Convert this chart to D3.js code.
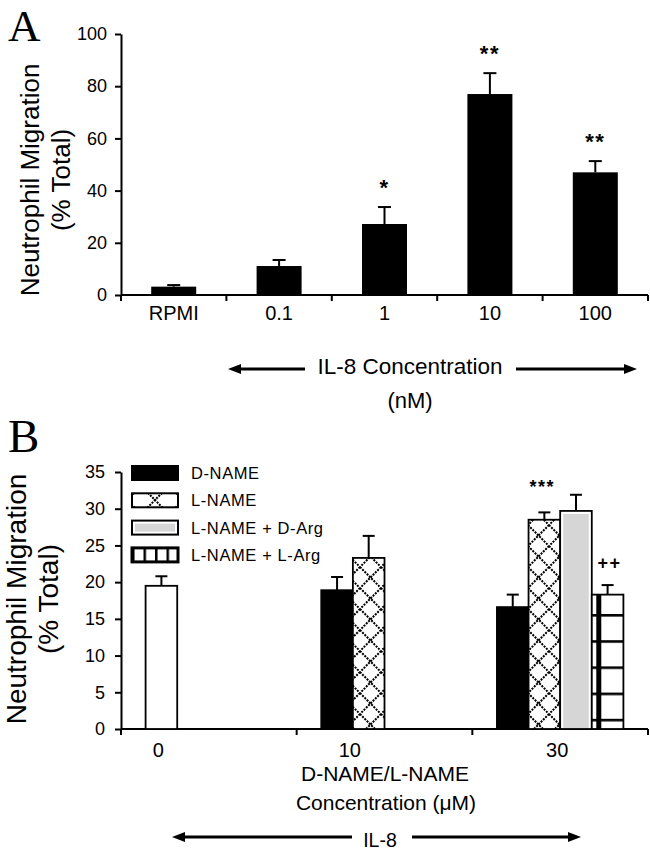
<!DOCTYPE html>
<html><head><meta charset="utf-8">
<script src="https://cdn.jsdelivr.net/npm/d3@7"></script>
<style>body{margin:0;background:#fff}svg{display:block}text{font-family:"Liberation Sans",Arial,sans-serif;fill:#000}</style>
</head><body>
<script>
// ---- Panel A data ----
const catsA = ["RPMI", "0.1", "1", "10", "100"];
const valsA = [3.2, 11.1, 27.2, 77, 47];
const errA  = [0.6, 2.3, 6.5, 8, 4.3];
const sigA  = ["", "", "*", "**", "**"];
const ticksA = [0, 20, 40, 60, 80, 100];

// ---- Panel B data ----
const concB = ["0", "10", "30"];
const seriesB = ["D-NAME", "L-NAME", "L-NAME + D-Arg", "L-NAME + L-Arg"];
const controlB = {conc: "0", value: 19.5, err: 1.3};
const dName  = [null, 18.9, 16.6];
const dNameErr = [null, 1.8, 1.7];
const lName  = [null, 23.3, 28.5];
const lNameErr = [null, 3.0, 1.0];
const lNameDArg = [null, null, 29.7];
const lNameDArgErr = [null, null, 2.2];
const lNameLArg = [null, null, 18.3];
const lNameLArgErr = [null, null, 1.3];
const sigB = {"L-NAME|30": "***", "L-NAME + L-Arg|30": "++"};
const ticksB = [0, 5, 10, 15, 20, 25, 30, 35];

const W = 650, H = 852;
const svg = d3.select("body").append("svg").attr("width", W).attr("height", H);
const defs = svg.append("defs");

// patterns
const pc = defs.append("pattern").attr("id","cross").attr("patternUnits","userSpaceOnUse")
  .attr("width",21).attr("height",21).attr("x",3);
pc.append("rect").attr("width",21).attr("height",21).attr("fill","#fff");
pc.append("path").attr("d","M0,0L21,21M21,0L0,21").attr("stroke","#000").attr("stroke-width",2).attr("stroke-dasharray","2,1.2");

const pcl = defs.append("pattern").attr("id","crossleg").attr("patternUnits","userSpaceOnUse")
  .attr("width",28).attr("height",28).attr("x",141).attr("y",486);
pcl.append("rect").attr("width",28).attr("height",28).attr("fill","#fff");
pcl.append("path").attr("d","M0,0L28,28M28,0L0,28").attr("stroke","#000").attr("stroke-width",2).attr("stroke-dasharray","2,1.2");

const pg = defs.append("pattern").attr("id","gridbar").attr("patternUnits","userSpaceOnUse")
  .attr("width",31).attr("height",26.2).attr("y",729 % 26.2 - 26.2 + 16);
pg.append("rect").attr("width",31).attr("height",26.2).attr("fill","#fff");
pg.append("rect").attr("x",0).attr("y",0).attr("width",31).attr("height",2.6).attr("fill","#000");

const pl = defs.append("pattern").attr("id","gridleg").attr("patternUnits","userSpaceOnUse")
  .attr("width",11.5).attr("height",40).attr("x",132);
pl.append("rect").attr("width",11.5).attr("height",40).attr("fill","#fff");
pl.append("rect").attr("x",0).attr("width",2.5).attr("height",40).attr("fill","#000");

// ================= Panel A =================
const xA = d3.scaleBand().domain(catsA).range([121, 648]).paddingInner(0.573).paddingOuter(0.2865);
const yA = d3.scaleLinear().domain([0, 100]).range([295, 34]);
const gA = svg.append("g");

gA.append("text").text("A").attr("x", 8).attr("y", 41)
  .style("font-family", "'Liberation Serif','Times New Roman',serif").style("font-size", "45px");

// y axis
const yAxA = gA.append("g").attr("transform", "translate(121,0)")
  .call(d3.axisLeft(yA).tickValues(ticksA).tickSize(6).tickPadding(8).tickSizeOuter(0));
yAxA.select(".domain").attr("stroke-width", 2);
yAxA.selectAll(".tick line").attr("stroke-width", 2);
yAxA.selectAll("text").style("font-size", "18px").style("font-family", "'Liberation Sans',Arial");

// x axis with ticks at band boundaries
const bndA = catsA.map(c => xA(c) - xA.step() * xA.paddingInner() / 2).concat([648]);
gA.append("line").attr("x1", 121).attr("x2", 648).attr("y1", 295).attr("y2", 295).attr("stroke", "#000").attr("stroke-width", 2);
gA.selectAll(".xtA").data(bndA).join("line").attr("x1", d => d).attr("x2", d => d)
  .attr("y1", 295).attr("y2", 301).attr("stroke", "#000").attr("stroke-width", 2);
gA.selectAll(".xlA").data(catsA).join("text").attr("x", d => xA(d) + xA.bandwidth() / 2).attr("y", 320)
  .attr("text-anchor", "middle").style("font-size", "20px").text(d => d);

// bars
gA.selectAll(".barA").data(catsA).join("rect")
  .attr("x", d => xA(d)).attr("width", xA.bandwidth())
  .attr("y", (d, i) => yA(valsA[i])).attr("height", (d, i) => yA(0) - yA(valsA[i]))
  .attr("fill", "#000");
// error bars
catsA.forEach((c, i) => {
  const cx = xA(c) + xA.bandwidth() / 2;
  gA.append("line").attr("x1", cx).attr("x2", cx).attr("y1", yA(valsA[i])).attr("y2", yA(valsA[i] + errA[i])).attr("stroke", "#000").attr("stroke-width", 2);
  gA.append("line").attr("x1", cx - 6.5).attr("x2", cx + 6.5).attr("y1", yA(valsA[i] + errA[i])).attr("y2", yA(valsA[i] + errA[i])).attr("stroke", "#000").attr("stroke-width", 2);
  if (sigA[i]) {
    gA.append("text").attr("x", cx).attr("y", yA(valsA[i] + errA[i]) - 12).attr("text-anchor", "middle")
      .style("font-size", "22px").style("letter-spacing","1.5px").style("font-weight","bold").text(sigA[i]);
  }
});

// y title
const ytA = gA.append("text").attr("transform", "translate(39,180) rotate(-90)").attr("text-anchor", "middle").style("font-size", "26px");
ytA.append("tspan").attr("x", 0).attr("dy", 0).text("Neutrophil Migration");
ytA.append("tspan").attr("x", 0).attr("dy", 31).text("(% Total)");

// x title with arrow
function arrow(g, x1, x2, y, gapL, gapR) {
  g.append("line").attr("x1", x1 + 10).attr("x2", gapL).attr("y1", y).attr("y2", y).attr("stroke", "#000").attr("stroke-width", 3);
  g.append("line").attr("x1", gapR).attr("x2", x2 - 10).attr("y1", y).attr("y2", y).attr("stroke", "#000").attr("stroke-width", 3);
  g.append("path").attr("d", `M${x1},${y}L${x1 + 13},${y - 5}L${x1 + 13},${y + 5}Z`).attr("fill", "#000");
  g.append("path").attr("d", `M${x2},${y}L${x2 - 13},${y - 5}L${x2 - 13},${y + 5}Z`).attr("fill", "#000");
}
arrow(gA, 228, 637, 369, 305, 516);
gA.append("text").attr("x", 410).attr("y", 374).attr("text-anchor", "middle").style("font-size", "22.5px").text("IL-8 Concentration");
gA.append("text").attr("x", 410).attr("y", 408).attr("text-anchor", "middle").style("font-size", "22px").text("(nM)");

// ================= Panel B =================
const x0 = d3.scaleBand().domain(concB).range([121, 648]).paddingInner(0.28).paddingOuter(0.14);
const x1 = d3.scaleBand().domain(seriesB).range([0, x0.bandwidth()]);
const yB = d3.scaleLinear().domain([0, 35]).range([729, 472]);
const gB = svg.append("g");

gB.append("text").text("B").attr("x", 8).attr("y", 452)
  .style("font-family", "'Liberation Serif','Times New Roman',serif").style("font-size", "47px");

const yAxB = gB.append("g").attr("transform", "translate(121,0)")
  .call(d3.axisLeft(yB).tickValues(ticksB).tickSize(6).tickPadding(10).tickSizeOuter(0));
yAxB.select(".domain").attr("stroke-width", 2);
yAxB.selectAll(".tick line").attr("stroke-width", 2);
yAxB.selectAll("text").style("font-size", "18px").style("font-family", "'Liberation Sans',Arial");

const bndB = concB.map(c => x0(c) - x0.step() * x0.paddingInner() / 2);
bndB[0] = 121; bndB.push(648);
gB.append("line").attr("x1", 121).attr("x2", 648).attr("y1", 729).attr("y2", 729).attr("stroke", "#000").attr("stroke-width", 2);
gB.selectAll(".xtB").data(bndB).join("line").attr("x1", d => d).attr("x2", d => d)
  .attr("y1", 729).attr("y2", 735).attr("stroke", "#000").attr("stroke-width", 2);

const seriesVals = [dName, lName, lNameDArg, lNameLArg];
const seriesErrs = [dNameErr, lNameErr, lNameDArgErr, lNameLArgErr];
const fills = ["#000", "url(#cross)", "#fff", "url(#gridbar)"];

const bars = [];
bars.push({conc: controlB.conc, slot: seriesB[0], v: controlB.value, e: controlB.err, fill: "#fff", key: "control"});
seriesB.forEach((s, si) => concB.forEach((c, ci) => {
  if (seriesVals[si][ci] != null) bars.push({conc: c, slot: s, v: seriesVals[si][ci], e: seriesErrs[si][ci], fill: fills[si], key: s + "|" + c, si: si});
}));

const bw = x1.bandwidth();
gB.selectAll(".barB").data(bars).join("rect")
  .attr("x", d => x0(d.conc) + x1(d.slot)).attr("width", bw)
  .attr("y", d => yB(d.v)).attr("height", d => yB(0) - yB(d.v))
  .attr("fill", d => d.fill).attr("stroke", "#000").attr("stroke-width", 1.8);
// grey inner fill for D-Arg bars
bars.filter(d => d.si === 2).forEach(d => {
  const bx = x0(d.conc) + x1(d.slot);
  gB.append("rect").attr("x", bx + 3).attr("width", bw - 6).attr("y", yB(d.v) + 3).attr("height", yB(0) - yB(d.v) - 4).attr("fill", "#d6d6d6");
});
// thick vertical line in L-Arg bar
bars.filter(d => d.si === 3).forEach(d => {
  const bx = x0(d.conc) + x1(d.slot);
  gB.append("line").attr("x1", bx + 7).attr("x2", bx + 7).attr("y1", yB(d.v)).attr("y2", yB(0)).attr("stroke", "#000").attr("stroke-width", 5);
});
bars.forEach(d => {
  const cx = x0(d.conc) + x1(d.slot) + bw / 2;
  gB.append("line").attr("x1", cx).attr("x2", cx).attr("y1", yB(d.v)).attr("y2", yB(d.v + d.e)).attr("stroke", "#000").attr("stroke-width", 2);
  gB.append("line").attr("x1", cx - 6).attr("x2", cx + 6).attr("y1", yB(d.v + d.e)).attr("y2", yB(d.v + d.e)).attr("stroke", "#000").attr("stroke-width", 2);
  if (sigB[d.key]) {
    const isPlus = sigB[d.key].indexOf("+") >= 0;
    gB.append("text").attr("x", cx + (isPlus ? 2 : -2)).attr("y", yB(d.v + d.e) - (isPlus ? 16 : 19)).attr("text-anchor", "middle")
      .style("font-size", "18px").style("letter-spacing", "1.5px").style("font-weight", "bold").text(sigB[d.key]);
  }
});

// x labels at centre of drawn bars
concB.forEach(c => {
  const bs = bars.filter(b => b.conc === c);
  const cx = d3.mean(bs, b => x0(b.conc) + x1(b.slot) + bw / 2);
  gB.append("text").attr("x", cx - 3).attr("y", 757).attr("text-anchor", "middle").style("font-size", "20px").text(c);
});

// legend
const leg = gB.append("g");
const legFills = ["#000", "url(#crossleg)", "#fff", "url(#gridleg)"];
seriesB.forEach((s, i) => {
  const y = 466 + i * 27.3;
  leg.append("rect").attr("x", 132).attr("y", y).attr("width", 46).attr("height", 14)
    .attr("fill", legFills[i]).attr("stroke", "#000").attr("stroke-width", i === 3 ? 3 : 2);
  if (i === 2) leg.append("rect").attr("x", 135).attr("y", y + 3).attr("width", 40).attr("height", 8).attr("fill", "#d6d6d6");
  leg.append("text").attr("x", 191).attr("y", y + 13).style("font-size", "16.5px").style("letter-spacing", "0.6px").text(s);
});

// y title
const ytB = gB.append("text").attr("transform", "translate(26,599) rotate(-90)").attr("text-anchor", "middle").style("font-size", "28px");
ytB.append("tspan").attr("x", 0).attr("dy", 0).text("Neutrophil Migration");
ytB.append("tspan").attr("x", 0).attr("dy", 32).text("(% Total)");

// x title
gB.append("text").attr("x", 385).attr("y", 781).attr("text-anchor", "middle").style("font-size", "21px").text("D-NAME/L-NAME");
gB.append("text").attr("x", 386).attr("y", 810).attr("text-anchor", "middle").style("font-size", "21px").text("Concentration (\u03bcM)");
arrow(gB, 172, 581, 837, 352, 412);
gB.append("text").attr("x", 380).attr("y", 847).attr("text-anchor", "middle").style("font-size", "19.5px").text("IL-8");
</script>
</body></html>
